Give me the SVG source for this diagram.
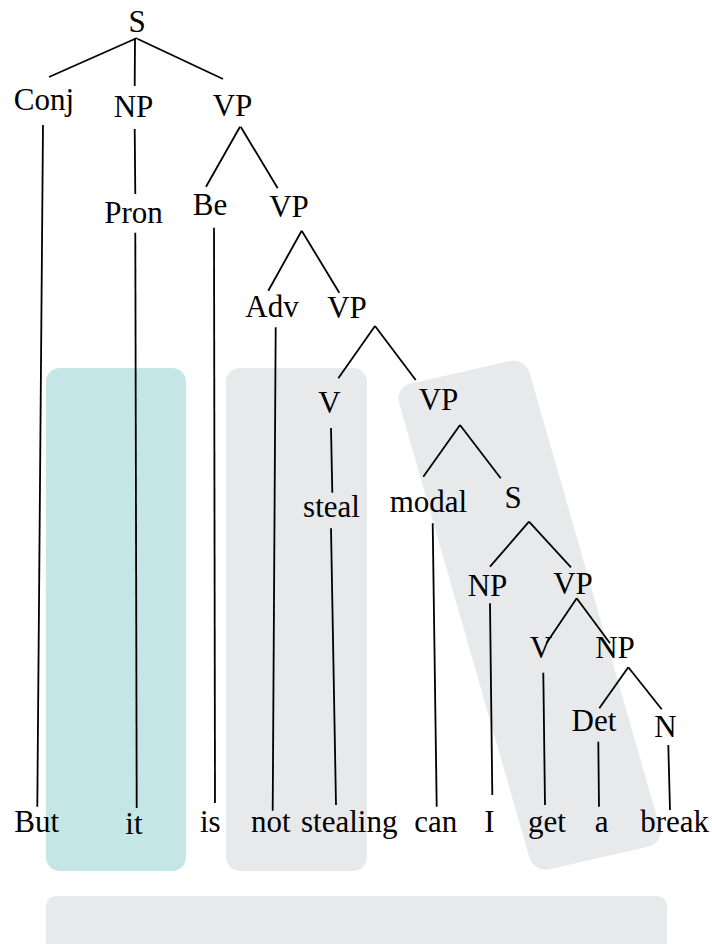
<svg xmlns="http://www.w3.org/2000/svg" width="712" height="944" viewBox="0 0 712 944">
<style>
.lbl{font-family:"Liberation Serif","Times New Roman",serif;font-size:31px;fill:#000;text-anchor:middle}
.e{stroke:#000;stroke-width:1.8;fill:none;stroke-linecap:butt}
.hl{fill:#e8e9eb}
.teal{fill:#c4e6e7}
</style>
<g id="highlights">
<rect id="hl-it" class="teal" x="46" y="368" width="140" height="503" rx="14"/>
<rect id="hl-steal" class="hl" x="226" y="368" width="141" height="503" rx="14"/>
<rect id="hl-vp" class="hl" x="0" y="0" width="134" height="505" rx="16" transform="matrix(0.9746,-0.2241,0.2756,0.9613,394.6,387.4)"/>
<rect id="hl-bottom" class="hl" x="46" y="896" width="621" height="60" rx="10"/>
</g>
<g id="connectors">
<line class="e" x1="137" y1="38" x2="49" y2="77"/>
<line class="e" x1="135" y1="38" x2="134.7" y2="86"/>
<line class="e" x1="137.3" y1="38.7" x2="223" y2="79"/>
<line class="e" x1="43" y1="125" x2="37.3" y2="806.7"/>
<line class="e" x1="134.7" y1="129" x2="135.3" y2="194"/>
<line class="e" x1="135.3" y1="232.7" x2="136.7" y2="808"/>
<line class="e" x1="240" y1="126.7" x2="206" y2="186.7"/>
<line class="e" x1="240.7" y1="126.7" x2="277.7" y2="188.3"/>
<line class="e" x1="214" y1="227.7" x2="215" y2="803"/>
<line class="e" x1="301.7" y1="230.7" x2="268.3" y2="290.7"/>
<line class="e" x1="301.7" y1="230.7" x2="339.3" y2="292.7"/>
<line class="e" x1="275.7" y1="327.3" x2="272.7" y2="810.7"/>
<line class="e" x1="375" y1="326" x2="338.3" y2="378.3"/>
<line class="e" x1="375" y1="326" x2="415.7" y2="380"/>
<line class="e" x1="331" y1="428" x2="332.3" y2="492.7"/>
<line class="e" x1="331" y1="528.3" x2="336" y2="805"/>
<line class="e" x1="460" y1="425" x2="423.3" y2="476.7"/>
<line class="e" x1="460" y1="425" x2="500.7" y2="478.3"/>
<line class="e" x1="432.7" y1="523.3" x2="436.7" y2="806.7"/>
<line class="e" x1="529" y1="521.7" x2="490" y2="566.7"/>
<line class="e" x1="529" y1="521.7" x2="571" y2="567.3"/>
<line class="e" x1="490" y1="603.3" x2="492.3" y2="795"/>
<line class="e" x1="576.7" y1="598.3" x2="546.7" y2="642.7"/>
<line class="e" x1="576.7" y1="598.3" x2="610" y2="643.3"/>
<line class="e" x1="543.3" y1="672.7" x2="545" y2="805"/>
<line class="e" x1="628.3" y1="667.3" x2="599.3" y2="708.3"/>
<line class="e" x1="628.3" y1="667.3" x2="661.7" y2="709.3"/>
<line class="e" x1="598.3" y1="741.7" x2="599" y2="806.7"/>
<line class="e" x1="668.3" y1="745" x2="670" y2="810"/>
</g>
<g id="n-S"><text class="lbl" x="137" y="32">S</text></g>
<g id="n-Conj"><text class="lbl" x="44" y="110">Conj</text></g>
<g id="n-NP1"><text class="lbl" x="133.5" y="117">NP</text></g>
<g id="n-VP1"><text class="lbl" x="232.5" y="116">VP</text></g>
<g id="n-Pron"><text class="lbl" x="133.5" y="222.7">Pron</text></g>
<g id="n-Be"><text class="lbl" x="210" y="215">Be</text></g>
<g id="n-VP2"><text class="lbl" x="289" y="216.7">VP</text></g>
<g id="n-Adv"><text class="lbl" x="272" y="316.7">Adv</text></g>
<g id="n-VP3"><text class="lbl" x="347" y="318">VP</text></g>
<g id="n-V1"><text class="lbl" x="329.5" y="413">V</text></g>
<g id="n-VP4"><text class="lbl" x="438.5" y="410">VP</text></g>
<g id="n-steal"><text class="lbl" x="331.5" y="516.5">steal</text></g>
<g id="n-modal"><text class="lbl" x="428.5" y="512">modal</text></g>
<g id="n-S2"><text class="lbl" x="513" y="508">S</text></g>
<g id="n-NP2"><text class="lbl" x="487.5" y="595.7">NP</text></g>
<g id="n-VP5"><text class="lbl" x="573" y="594">VP</text></g>
<g id="n-V2"><text class="lbl" x="541" y="658">V</text></g>
<g id="n-NP3"><text class="lbl" x="615" y="658">NP</text></g>
<g id="n-Det"><text class="lbl" x="594" y="731">Det</text></g>
<g id="n-N"><text class="lbl" x="665.5" y="736.7">N</text></g>
<g id="w-But"><text class="lbl" x="36.7" y="832">But</text></g>
<g id="w-it"><text class="lbl" x="133.9" y="834">it</text></g>
<g id="w-is"><text class="lbl" x="210.3" y="832">is</text></g>
<g id="w-not"><text class="lbl" x="270.7" y="832">not</text></g>
<g id="w-stealing"><text class="lbl" x="349.2" y="832">stealing</text></g>
<g id="w-can"><text class="lbl" x="435.7" y="832">can</text></g>
<g id="w-I"><text class="lbl" x="489.5" y="832">I</text></g>
<g id="w-get"><text class="lbl" x="547" y="832">get</text></g>
<g id="w-a"><text class="lbl" x="601.7" y="832">a</text></g>
<g id="w-break"><text class="lbl" x="674.7" y="832">break</text></g>
</svg>
